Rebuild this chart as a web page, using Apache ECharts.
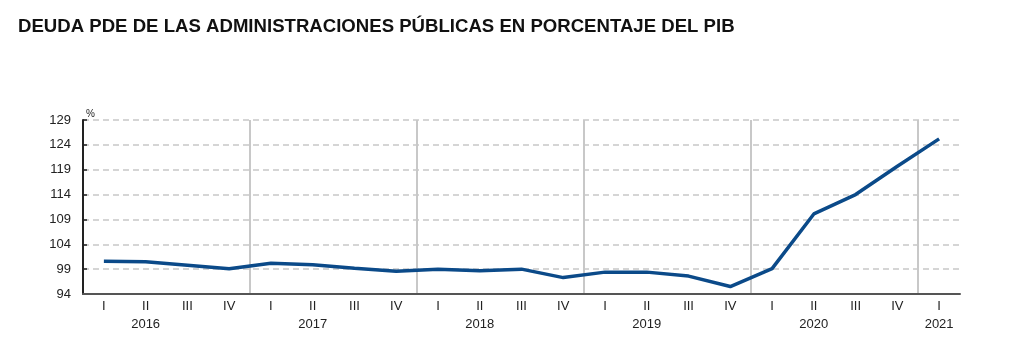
<!DOCTYPE html>
<html>
<head>
<meta charset="utf-8">
<script src="https://cdn.jsdelivr.net/npm/echarts@6/dist/echarts.min.js"></script>
<style>
html,body{margin:0;padding:0;background:#fff;}
#chart{width:1019px;height:356px;}
</style>
</head>
<body>
<div id="chart"></div>
<script>
const title = 'DEUDA PDE DE LAS ADMINISTRACIONES PÚBLICAS EN PORCENTAJE DEL PIB';
const quarters = ['I','II','III','IV','I','II','III','IV','I','II','III','IV','I','II','III','IV','I','II','III','IV','I'];
const years = ['', '2016', '', '', '', '2017', '', '', '', '2018', '', '', '', '2019', '', '', '', '2020', '', '', '2021'];
const debt = [100.6, 100.5, 99.8, 99.1, 100.2, 99.9, 99.2, 98.6, 99.0, 98.7, 99.0, 97.3, 98.4, 98.4, 97.6, 95.5, 99.1, 110.1, 114.0, 119.7, 125.2];
const yTicks = {min: 94, max: 129, step: 5};

const categories = quarters.map((q, i) => q + '\n' + years[i]);
// boundary positions between quarters (used only for the year separator lines)
const boundaries = Array.from({length: quarters.length + 1}, (_, i) => String(i));

const FONT = 'Liberation Sans, Arial, sans-serif';
const chart = echarts.init(document.getElementById('chart'), null, {renderer: 'canvas'});
chart.setOption({
  animation: false,
  textStyle: {fontFamily: FONT},
  title: {
    text: title,
    left: 13,
    top: 12,
    textStyle: {fontFamily: FONT, fontWeight: 'bold', fontSize: 18.6, color: '#111'}
  },
  grid: {left: 83, right: 59, top: 120, bottom: 62},
  xAxis: [{
    type: 'category',
    data: categories,
    boundaryGap: true,
    axisLine: {lineStyle: {color: '#555', width: 2}},
    axisTick: {show: false},
    axisLabel: {interval: 0, color: '#222', fontSize: 13, lineHeight: 17.5, margin: 4},
    splitLine: {show: false},
    z: 3
  }, {
    type: 'category',
    data: boundaries,
    boundaryGap: false,
    position: 'bottom',
    axisLine: {show: false},
    axisTick: {show: false},
    axisLabel: {show: false},
    splitLine: {show: true, interval: (i) => i % 4 === 0 && i > 0 && i < quarters.length, lineStyle: {color: '#c8c8c8', width: 2}}
  }],
  yAxis: {
    type: 'value',
    min: yTicks.min,
    max: yTicks.max,
    interval: yTicks.step,
    name: '%',
    nameLocation: 'end',
    nameGap: 1,
    nameTextStyle: {color: '#222', fontSize: 10, align: 'left', padding: [0, 0, 0, 3]},
    axisLine: {show: true, lineStyle: {color: '#222', width: 2}},
    axisTick: {show: true, inside: true, length: 4, lineStyle: {color: '#222', width: 1.5}},
    axisLabel: {color: '#222', fontSize: 13, margin: 12},
    splitLine: {show: true, lineStyle: {color: '#c8c8c8', type: [6, 4], width: 1.5}}
  },
  series: [{
    type: 'line',
    data: debt,
    xAxisIndex: 0,
    symbol: 'none',
    lineStyle: {color: '#0b4a89', width: 3.5},
    z: 5
  }]
});
</script>
</body>
</html>
